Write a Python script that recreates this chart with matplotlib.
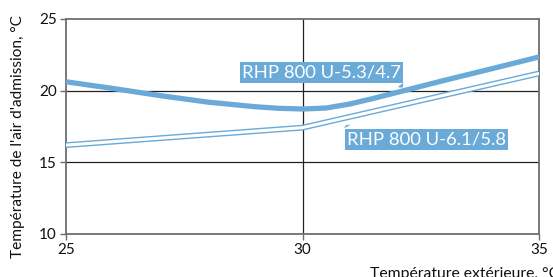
import matplotlib
matplotlib.use("Agg")
import matplotlib.pyplot as plt

plt.rcParams['font.family'] = ['Lato', 'DejaVu Sans']

# Data
x_thick = [25, 26, 27, 28, 29, 29.5, 30, 30.5, 31, 31.5, 32, 33, 34, 35]
y_thick = [20.62, 20.15, 19.65, 19.2, 18.88, 18.77, 18.72, 18.79, 19.07, 19.46, 19.88, 20.72, 21.53, 22.35]
x_thin = [25, 30, 35]
y_thin = [16.2, 17.42, 21.2]
label_thick = "RHP 800 U-5.3/4.7"
label_thin = "RHP 800 U-6.1/5.8"
x_ticks = [25, 30, 35]
y_ticks = [10, 15, 20, 25]
xlabel = "Température extérieure, °C"
ylabel = "Température de l'air d'admission, °C"

blue = '#6aaad8'
spine_col = '#6e6e6e'

fig = plt.figure(figsize=(5.53, 2.77), dpi=100)
ax = fig.add_axes([66/553, 43/277, 473/553, 215/277])

ax.set_xlim(25, 35)
ax.set_ylim(10, 25)
ax.set_xticks(x_ticks)
ax.set_yticks(y_ticks)
ax.tick_params(axis='both', direction='out', length=4, width=1, color=spine_col,
               labelsize=11, pad=2.5, labelcolor='#111111')
for s in ax.spines.values():
    s.set_color(spine_col)
    s.set_linewidth(1.3)

# gridlines (inner only)
for yv in [15, 20]:
    ax.axhline(yv, color='#222222', lw=0.9, zorder=1)
ax.axvline(30, color='#222222', lw=0.9, zorder=1)

# thick curve
ax.plot(x_thick, y_thick, color=blue, lw=3.8, solid_capstyle='butt',
        solid_joinstyle='round', zorder=3)
# double line (blue with white core)
ax.plot(x_thin, y_thin, color=blue, lw=4.2, solid_capstyle='butt', zorder=3)
ax.plot(x_thin, y_thin, color='white', lw=2.2, solid_capstyle='butt', zorder=3)

box = dict(boxstyle='square,pad=0.12', fc=blue, ec='none')
ax.annotate(label_thick, xy=(32.15, 20.05), xytext=(30.4, 21.27),
            ha='center', va='center', color='white', fontsize=13.3, bbox=box,
            arrowprops=dict(arrowstyle='wedge,tail_width=0.4,shrink_factor=0.5',
                            fc=blue, ec='none', relpos=(0.97, 0.1)), zorder=5)
ax.annotate(label_thin, xy=(30.9, 17.8), xytext=(32.62, 16.6),
            ha='center', va='center', color='white', fontsize=13.3, bbox=box,
            arrowprops=dict(arrowstyle='wedge,tail_width=0.4,shrink_factor=0.5',
                            fc=blue, ec='none', relpos=(0.02, 0.9)), zorder=5)

fig.text(559/553, -1/277, xlabel, ha='right', va='baseline', fontsize=11.3, color='#111111')
fig.text(18/553, 140/277, ylabel, ha='center', va='center', rotation=90,
         fontsize=11.1, color='#111111')

fig.savefig('out.png', dpi=100)
